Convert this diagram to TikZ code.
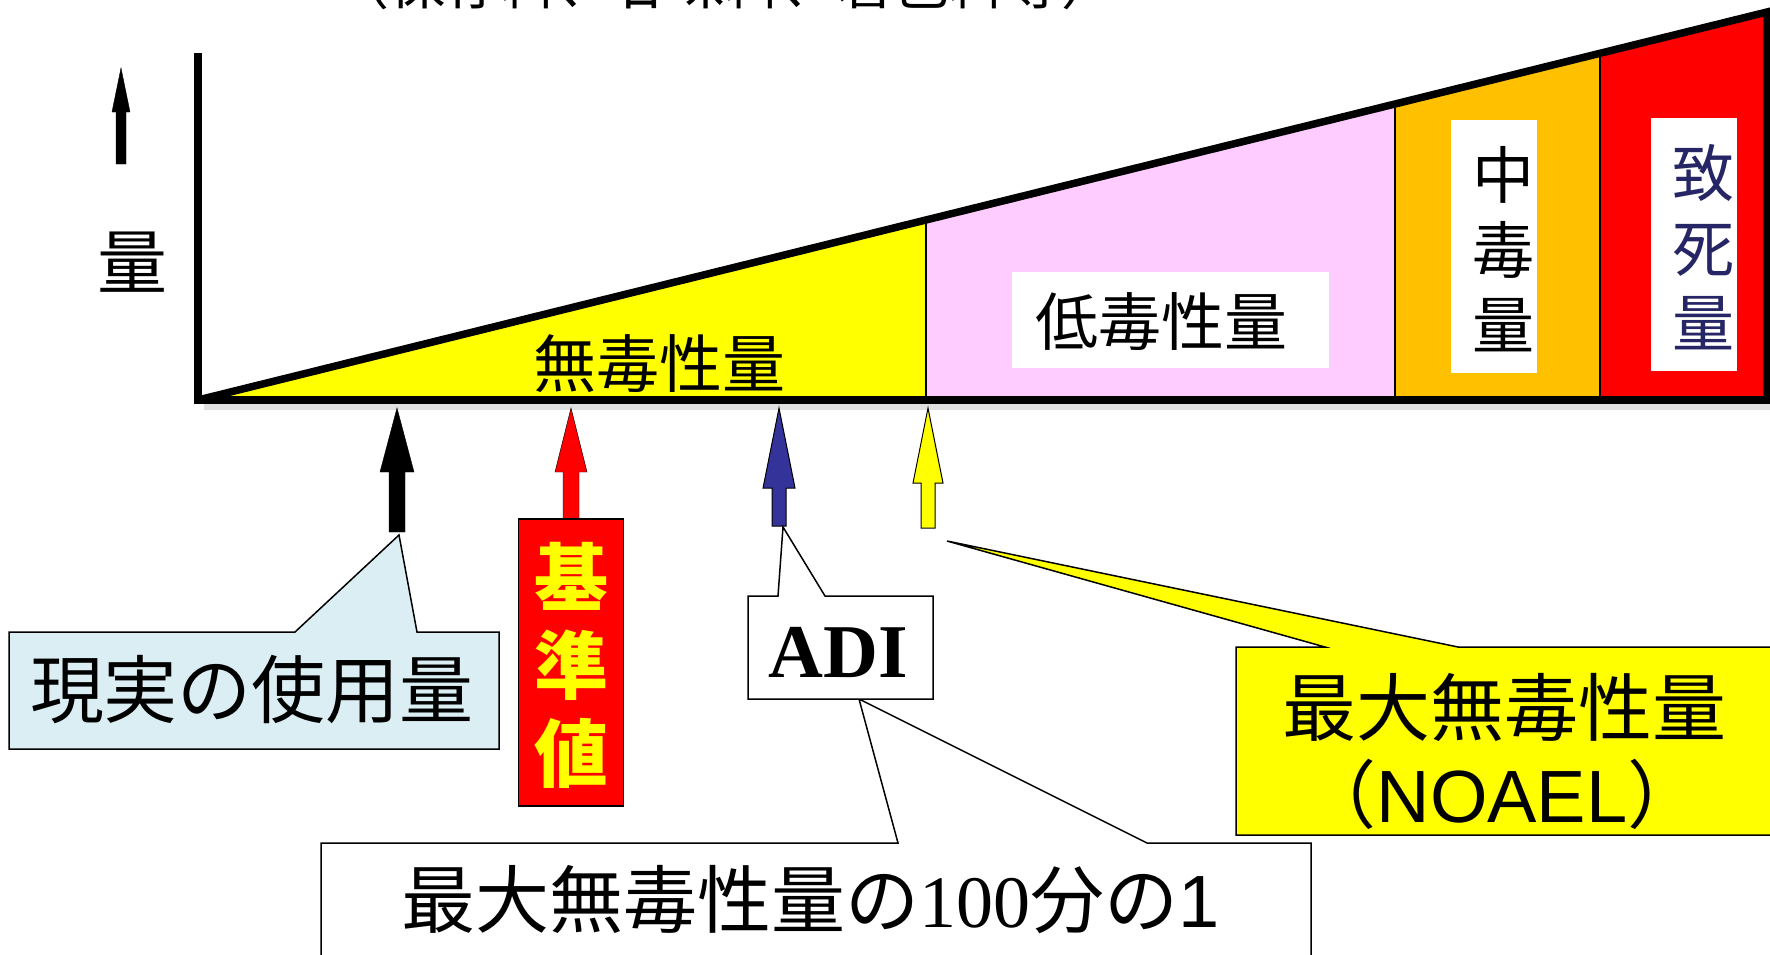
\documentclass[tikz,border=0pt]{standalone}
\usepackage{fontspec}
\setmainfont{Liberation Serif}
\newfontfamily\jp{Noto Sans CJK JP}
\newfontfamily\lsans{Liberation Sans}
\newfontfamily\lserif{Liberation Serif}
\definecolor{ylw}{HTML}{FFFF00}
\definecolor{pnk}{HTML}{FFCCFF}
\definecolor{org}{HTML}{FFC000}
\definecolor{rd}{HTML}{FF0000}
\definecolor{lblue}{HTML}{DAEEF3}
\definecolor{barrowblue}{HTML}{333399}
\definecolor{navy}{HTML}{262666}
\newcommand{\barrow}[7]{\draw[#1] (#2,#3) -- (#2+#5,#4) -- (#2+#6,#4) -- (#2+#6,#7) -- (#2-#6,#7) -- (#2-#6,#4) -- (#2-#5,#4) -- cycle;}
\tikzset{
  thickline/.style={line width=7.5pt, line join=miter},
  sepline/.style={line width=1.5pt},
  callout/.style={draw=black, line width=1.5pt, line join=miter},
  lbl/.style={inner sep=0pt, font=\jp},
  whitebox/.style={fill=white, draw=none},
}
\begin{document}
\begin{tikzpicture}[x=1pt,y=-1pt]
\useasboundingbox (0,0) rectangle (1770,954);
% partially visible title
\node[lbl, anchor=base, font=\jp\fontsize{56}{60}\selectfont] (title) at (725,4) {（保存料、甘味料、着色料等）};
% coloured regions
\coordinate (O) at (198,400);
\coordinate (TR) at (1767,12);
\fill[ylw] (O) -- (926,220) -- (926,400) -- cycle;
\fill[pnk] (926,400) -- (926,220) -- (1395,104) -- (1395,400) -- cycle;
\fill[org] (1395,400) -- (1395,104) -- (1600,53) -- (1600,400) -- cycle;
\fill[rd] (1600,400) -- (1600,53) -- (TR) -- (1767,400) -- cycle;
\draw[sepline] (926,220) -- (926,400);
\draw[sepline] (1395,104) -- (1395,400);
\draw[sepline] (1600,53) -- (1600,400);
% shadow of axis
\draw[line width=6pt, black!12] (204,407) -- (1770,407);
% axes
\draw[thickline] (198,53) -- (O) -- (1770,400);
\draw[thickline] (O) -- (TR) -- (1767,400);
% up arrow and axis label
\barrow{fill=black}{121}{68}{112}{9}{5}{164}
\node[lbl, font=\jp\fontsize{70}{70}\selectfont] (ryo) at (132,262) {量};
% region labels
\node[lbl, font=\jp\fontsize{63}{63}\selectfont] (mudoku) at (659,364) {無毒性量};
\fill[whitebox] (1012,272) rectangle (1329,368);
\node[lbl, font=\jp\fontsize{63}{63}\selectfont] (teidoku) at (1161,322) {低毒性量};
\fill[whitebox] (1451,120) rectangle (1537,373);
\node[lbl, align=center, font=\jp\fontsize{62}{75}\selectfont] (chudoku) at (1503,249) {中\\毒\\量};
\fill[whitebox] (1651,118) rectangle (1737,371);
\node[lbl, align=center, text=navy, font=\jp\fontsize{62}{75}\selectfont] (chishi) at (1703,247) {致\\死\\量};
% arrows under the axis
\barrow{fill=black}{397}{408}{472}{17}{8}{532}
\barrow{fill=rd}{571}{408}{472}{16}{8}{520}
\barrow{fill=barrowblue, draw=black, line width=1pt}{779}{408}{488}{16}{7}{526}
\barrow{fill=ylw, draw=black, line width=1pt}{928}{408}{483}{15}{7}{528}
\coordinate (blackend) at (399,535);
\coordinate (blueend) at (783,527);
\coordinate (yellowend) at (947,541);
% 基準値
\node[draw=black, line width=1.5pt, fill=rd, minimum width=105pt, minimum height=287pt, inner sep=0pt] (kijunbox) at (571,662.5) {};
\node[lbl, align=center, text=ylw, font=\jp\bfseries\fontsize{74}{88}\selectfont] (kijun) at (571,665) {基\\準\\値};
% 現実の使用量 callout
\draw[callout, fill=lblue] (9,632) -- (295,632) -- (blackend) -- (417,632) -- (499,632) -- (499,749) -- (9,749) -- cycle;
\node[lbl, font=\jp\fontsize{74}{74}\selectfont] (genjitsu) at (252,690) {現実の使用量};
% lower callout
\draw[callout, fill=white] (321,843) -- (898,843) -- (859,699) -- (1147,843) -- (1311,843) -- (1311,970) -- (321,970) -- cycle;
\node[lbl, font=\jp\fontsize{74}{74}\selectfont] (hyakubun) at (811,900) {最大無毒性量の{\lserif 100}分の{\lsans 1}};
% ADI callout
\draw[callout, fill=white] (748,596) -- (778,596) -- (blueend) -- (825,596) -- (933,596) -- (933,699) -- (748,699) -- cycle;
\node[inner sep=0pt, font=\lserif\bfseries\fontsize{76}{76}\selectfont] (adi) at (838,652) {ADI};
% NOAEL callout
\draw[callout, fill=ylw] (1236,647) -- (1325,647) -- (yellowend) -- (1458,647) -- (1780,647) -- (1780,835) -- (1236,835) -- cycle;
\node[lbl, font=\jp\fontsize{74}{74}\selectfont] (saidai) at (1504,707) {最大無毒性量};
\node[lbl, font=\jp\fontsize{74}{74}\selectfont] (noael) at (1502,794) {（{\lsans NOAEL}）};
\end{tikzpicture}
\end{document}
